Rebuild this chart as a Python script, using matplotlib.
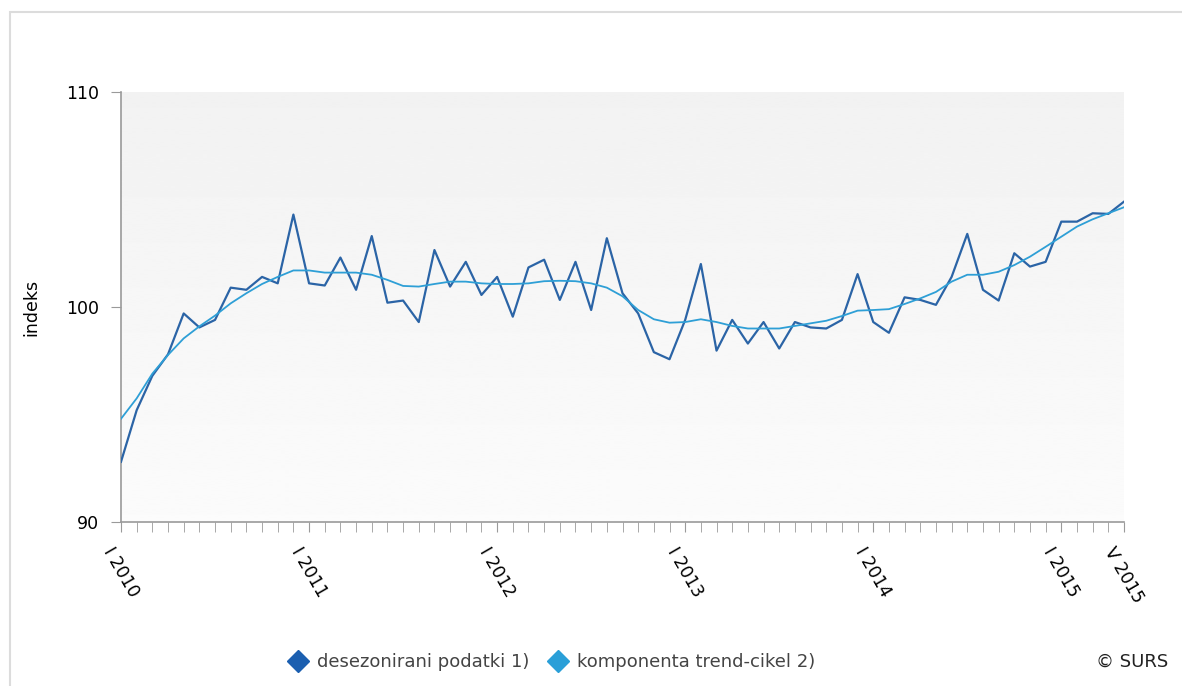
import numpy as np
import matplotlib
matplotlib.use("Agg")
import matplotlib.pyplot as plt
from matplotlib.lines import Line2D
from matplotlib.patches import Rectangle

plt.rcParams["font.family"] = ["DejaVu Sans"]

# ==========================
# Data (I 2010 .. V 2015, monthly)
# ==========================

desezonirani = [
    92.8, 95.2, 96.8, 97.8, 99.7, 99.05, 99.4, 100.9, 100.8, 101.4, 101.1, 104.3,
    101.1, 101.0, 102.3, 100.8, 103.3, 100.2, 100.3, 99.3, 102.65, 100.95, 102.1, 100.56,
    101.4, 99.55, 101.84, 102.2, 100.33, 102.1, 99.86, 103.2, 100.64, 99.7, 97.9, 97.57,
    99.4, 102.0, 97.97, 99.4, 98.3, 99.3, 98.07, 99.3, 99.05, 99.0, 99.4, 101.53,
    99.3, 98.8, 100.45, 100.33, 100.1, 101.4, 103.4, 100.8, 100.3, 102.5, 101.88, 102.1,
    103.97, 103.97, 104.36, 104.33, 104.9,
]

trend_cikel = [
    94.8, 95.75, 96.9, 97.77, 98.54, 99.1, 99.6, 100.17, 100.64, 101.07, 101.4, 101.7,
    101.7, 101.6, 101.6, 101.6, 101.5, 101.26, 100.98, 100.95, 101.07, 101.18, 101.18, 101.1,
    101.07, 101.07, 101.1, 101.2, 101.22, 101.2, 101.1, 100.9, 100.5, 99.86, 99.43, 99.27,
    99.3, 99.43, 99.3, 99.12, 99.0, 99.0, 99.0, 99.12, 99.24, 99.36, 99.58, 99.83,
    99.86, 99.9, 100.14, 100.4, 100.7, 101.18, 101.5, 101.5, 101.64, 101.95, 102.34, 102.8,
    103.27, 103.74, 104.08, 104.36, 104.64,
]

tick_pos = [0, 12, 24, 36, 48, 60, 64]
tick_labels = ["I 2010", "I 2011", "I 2012", "I 2013", "I 2014", "I 2015", "V 2015"]

dark_blue = "#2b64a6"
light_blue = "#2e9fd6"

# ==========================
# Figure
# ==========================

fig = plt.figure(figsize=(11.82, 6.86), dpi=100)

# light frame around the chart
fig.patches.append(Rectangle(
    (10 / 1182, -0.01), 1.2, 1 - 12 / 686 + 0.01,
    transform=fig.transFigure, fill=False, edgecolor="#dcdcdc", linewidth=1.5
))

ax = fig.add_axes([121 / 1182, 1 - 522 / 686, 1003 / 1182, 430 / 686])

# background gradient
grad = np.linspace(0.948, 0.985, 400).reshape(-1, 1)
ax.imshow(grad, extent=[0, 1, 0, 1], transform=ax.transAxes, cmap="gray",
          vmin=0, vmax=1, aspect="auto", zorder=0, origin="upper",
          interpolation="bilinear")

x = np.arange(len(desezonirani))

ax.plot(x, desezonirani, color=dark_blue, linewidth=1.6, zorder=3)
ax.plot(x, trend_cikel, color=light_blue, linewidth=1.3, zorder=4)

ax.set_xlim(0, 64)
ax.set_ylim(90, 110)

for side in ["top", "right"]:
    ax.spines[side].set_visible(False)
for side in ["left", "bottom"]:
    ax.spines[side].set_color("#9a9a9a")
    ax.spines[side].set_linewidth(1.2)

ax.set_yticks([90, 100, 110])
ax.tick_params(axis="y", length=7, color="#9a9a9a", labelsize=12.5, pad=9)

ax.set_xticks(tick_pos)
ax.set_xticks(x, minor=True)
ax.set_xticklabels(tick_labels, rotation=-60, ha="center", va="top",
                   fontsize=12.5)
ax.tick_params(axis="x", which="both", length=7, color="#9a9a9a", pad=9)

ax.set_ylabel("indeks", fontsize=12.5)
ax.yaxis.set_label_coords(-0.08, 0.5)

# ==========================
# Legend
# ==========================

handles = [
    Line2D([], [], marker="D", linestyle="none", markersize=11,
           color="#1b5fb0", label="desezonirani podatki 1)"),
    Line2D([], [], marker="D", linestyle="none", markersize=11,
           color="#2a9fd8", label="komponenta trend-cikel 2)"),
]
fig.legend(handles=handles, loc="center", bbox_to_anchor=(0.463, 1 - 662 / 686),
           ncol=2, frameon=False, fontsize=13, handletextpad=0.05,
           columnspacing=0.6, labelcolor="#444444")

fig.text(1168 / 1182, 1 - 662 / 686, "© SURS", ha="right", va="center",
         fontsize=13, color="#222222")

fig.savefig("out.png", dpi=100)
plt.close(fig)
